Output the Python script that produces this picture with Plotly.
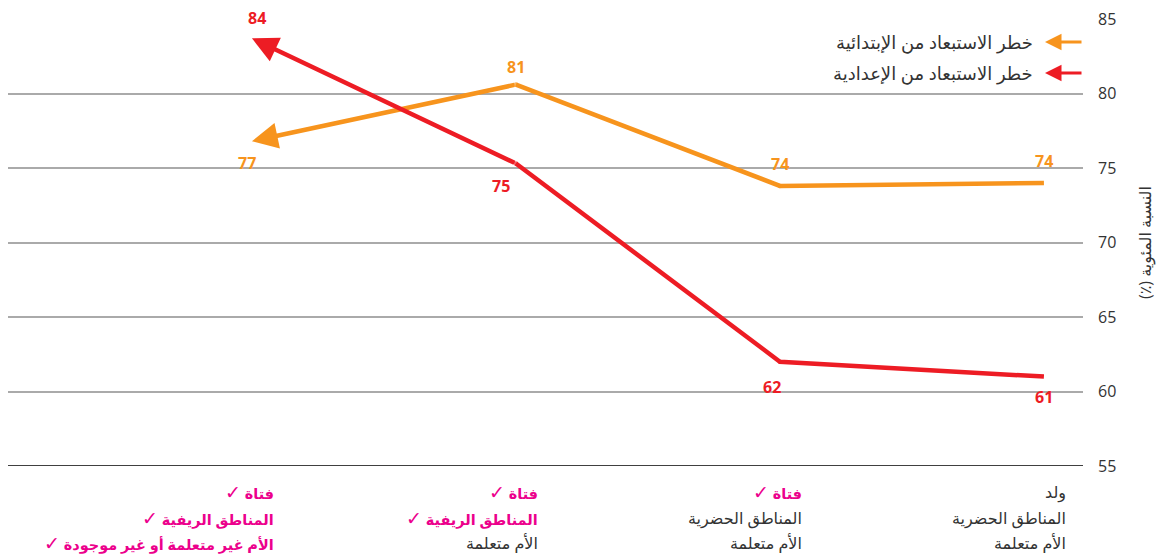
import plotly.graph_objects as go

RLM = "\u200F"

# ---- data ----
cat_line1 = ["ولد", "فتاة", "فتاة", "فتاة"]
cat_line2 = ["المناطق الحضرية", "المناطق الحضرية", "المناطق الريفية", "المناطق الريفية"]
cat_line3 = ["الأم متعلمة", "الأم متعلمة", "الأم متعلمة", "الأم غير متعلمة أو غير موجودة"]
hl_line1 = [False, True, True, True]
hl_line2 = [False, False, True, True]
hl_line3 = [False, False, False, True]

primary_name = "خطر الاستبعاد من الإبتدائية"
secondary_name = "خطر الاستبعاد من الإعدادية"
primary_vals = [74.0, 73.8, 80.6, 76.8]
secondary_vals = [61.0, 62.0, 75.3, 83.7]

y_title = "النسبة المئوية (٪)"
y_ticks = [55, 60, 65, 70, 75, 80, 85]

# ---- style ----
ORANGE = "#F7941D"
RED = "#ED1C24"
PINK = "#EC008C"
TEXT = "#333333"
FONT = "Open Sans, DejaVu Sans, sans-serif"
LW = 4.5

xs = list(range(len(cat_line1)))

# label offsets per point (px): (xshift, yshift)
primary_label_off = [(0, 22), (0, 22), (0, 18), (-5, -22)]
secondary_label_off = [(0, -20), (-8, -25), (-15, -22), (5, 20)]

fig = go.Figure()

for vals, color in [(primary_vals, ORANGE), (secondary_vals, RED)]:
    n = len(vals) - 1
    fig.add_trace(go.Scatter(
        x=xs[:-1], y=vals[:-1], mode="lines+markers",
        line=dict(color=color, width=LW),
        marker=dict(color=color, size=[0] + [LW] * (n - 1), line=dict(width=0)),
        hoverinfo="skip", showlegend=False,
    ))

annotations = []

# last segment drawn as an arrow
for vals, color in [(primary_vals, ORANGE), (secondary_vals, RED)]:
    annotations.append(dict(
        x=xs[-1], y=vals[-1], ax=xs[-2], ay=vals[-2],
        xref="x", yref="y", axref="x", ayref="y",
        showarrow=True, arrowhead=2, arrowsize=1.15, arrowwidth=LW,
        arrowcolor=color, text="", standoff=0,
    ))

# data labels
for vals, color, offs in [(primary_vals, ORANGE, primary_label_off),
                          (secondary_vals, RED, secondary_label_off)]:
    for x, v, (dx, dy) in zip(xs, vals, offs):
        annotations.append(dict(
            x=x, y=v, xref="x", yref="y", text=str(int(round(v))),
            showarrow=False, xshift=dx, yshift=dy,
            font=dict(family=FONT, size=16, color=color, weight="bold"),
        ))

CHECK = " <span style='font-size:19px'>✓" + RLM + "</span>"

# category labels (three lines each)
for k, (lines, hls) in enumerate([(cat_line1, hl_line1), (cat_line2, hl_line2), (cat_line3, hl_line3)]):
    for x, t, h in zip(xs, lines, hls):
        txt = RLM + t + (CHECK if h else RLM)
        annotations.append(dict(
            x=x, y=0, xref="x", yref="paper", text=txt, showarrow=False,
            xanchor="right", yanchor="middle", xshift=24, yshift=-26 - 25.5 * k,
            font=dict(family=FONT, size=14.5 if h else 16, color=PINK if h else TEXT,
                      weight="bold" if h else "normal"),
        ))

# legend built from annotations (text + arrow on the right)
for i, (name, color) in enumerate([(primary_name, ORANGE), (secondary_name, RED)]):
    ypix = 23 + 31 * i
    annotations.append(dict(
        x=1, y=1, xref="paper", yref="paper", xanchor="right", yanchor="middle",
        text=RLM + name + RLM, showarrow=False, xshift=-48, yshift=-ypix,
        font=dict(family=FONT, size=18, color=TEXT),
    ))
    annotations.append(dict(
        x=1, y=1, xref="paper", yref="paper", xshift=-38, yshift=-ypix,
        ax=38, ay=0, axref="pixel", ayref="pixel",
        showarrow=True, arrowhead=2, arrowsize=1.1, arrowwidth=3,
        arrowcolor=color, text="",
    ))

fig.update_layout(
    width=1168, height=557,
    margin=dict(l=8, r=85, t=14, b=91),
    paper_bgcolor="white", plot_bgcolor="white",
    font=dict(family=FONT, size=16, color=TEXT),
    showlegend=False,
    annotations=annotations,
    xaxis=dict(
        range=[3.924, -0.148], showticklabels=False, showgrid=False,
        zeroline=False, showline=False, fixedrange=True,
    ),
    yaxis=dict(
        range=[55, 85], side="right", tickvals=y_ticks,
        showgrid=True, gridcolor="#AAAAAA", gridwidth=1.5,
        zeroline=False, showline=False, ticks="",
        ticklabelstandoff=14,
        tickfont=dict(family=FONT, size=16, color=TEXT),
        title=dict(text=RLM + y_title + RLM, standoff=24,
                   font=dict(family=FONT, size=16, color=TEXT)),
    ),
    shapes=[dict(type="line", xref="paper", yref="y", x0=0, x1=1, y0=55, y1=55,
                 line=dict(color="black", width=1.5))],
)

fig.write_html("out.html", config={"displayModeBar": False},
               post_script="document.body.style.margin='0px';")
